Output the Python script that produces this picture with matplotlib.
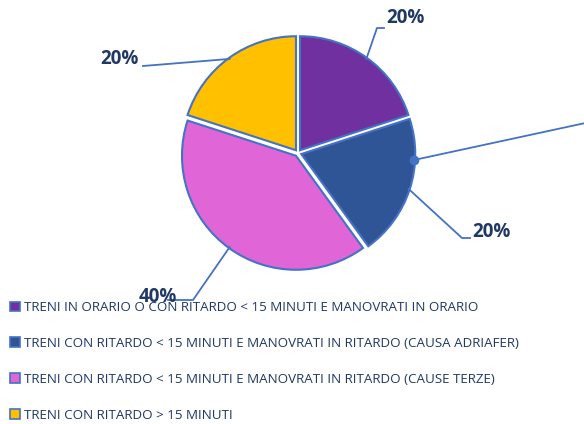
import matplotlib
matplotlib.use("Agg")
import matplotlib.pyplot as plt
from matplotlib.patches import Patch
import numpy as np

categories = [
    "TRENI IN ORARIO O CON RITARDO < 15 MINUTI E MANOVRATI IN ORARIO",
    "TRENI CON RITARDO < 15 MINUTI E MANOVRATI IN RITARDO (CAUSA ADRIAFER)",
    "TRENI CON RITARDO < 15 MINUTI E MANOVRATI IN RITARDO (CAUSE TERZE)",
    "TRENI CON RITARDO > 15 MINUTI",
]
values = [20, 20, 40, 20]
labels = ["20%", "20%", "40%", "20%"]
colors = ["#7030A0", "#2F5597", "#E066D8", "#FFC000"]
edge = "#4472C4"
txt = "#1F3864"

plt.rcParams['font.family'] = ['Open Sans', 'DejaVu Sans']

W, H = 584, 424
fig = plt.figure(figsize=(W / 100, H / 100), dpi=100)
cx, cy, R = 298, 153, 114
ax = fig.add_axes([(cx - R) / W, (H - cy - R) / H, 2 * R / W, 2 * R / H])
wedges, _ = ax.pie(values, colors=colors, startangle=90, counterclock=False,
                   radius=1, explode=[0.03] * 4,
                   wedgeprops=dict(edgecolor=edge, linewidth=1.5))
ax.set_xlim(-1, 1)
ax.set_ylim(-1, 1)
ax.set_aspect('equal')
ax.axis('off')

def d(px, py):
    return (px - cx) / R, (cy - py) / R

# leader line waypoints (pixels) and label positions (pixels)
paths = [
    [(377, 28), (384, 28)],
    [(462, 238), (470, 238)],
    [(193, 300), (168, 300)],
    [(143, 66), (143, 66)],
]
label_pos = [(405, 18), (491, 232), (158, 297), (119, 59)]

for w, path, lab, lp in zip(wedges, paths, labels, label_pos):
    mid = np.deg2rad((w.theta1 + w.theta2) / 2)
    sx, sy = 1.02 * np.cos(mid), 1.02 * np.sin(mid)
    pts = [(sx, sy)] + [d(*p) for p in path]
    xs, ys = zip(*pts)
    ax.plot(xs, ys, color=edge, lw=1.3, clip_on=False, zorder=1)
    lx, ly = d(*lp)
    ax.text(lx, ly, lab, ha='center', va='center', fontsize=13.5,
            fontweight='bold', color=txt, clip_on=False, zorder=5)

# stray leader line with dot
p1 = d(414, 160)
p2 = d(590, 122)
ax.plot([p1[0], p2[0]], [p1[1], p2[1]], color=edge, lw=1.3, clip_on=False, zorder=3)
ax.plot([p1[0]], [p1[1]], 'o', color=edge, ms=6, clip_on=False, zorder=4)

handles = [Patch(facecolor=c, edgecolor=edge, linewidth=1.2) for c in colors]
leg = fig.legend(handles, categories, loc='upper left',
                 bbox_to_anchor=(5 / W, 1 - 295.5 / H), frameon=False,
                 fontsize=9.6, handlelength=0.7, handleheight=0.7,
                 handletextpad=0.3, labelspacing=1.72, borderaxespad=0)
for t in leg.get_texts():
    t.set_color(txt)

fig.savefig("out.png", dpi=100)
